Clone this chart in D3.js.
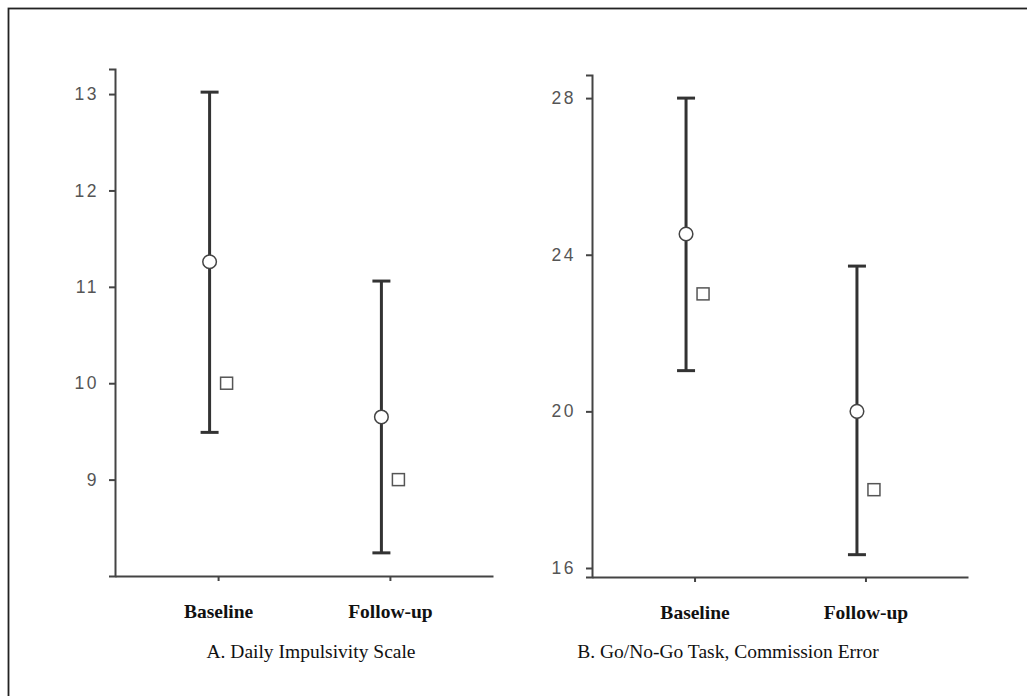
<!DOCTYPE html>
<html>
<head>
<meta charset="utf-8">
<script src="https://cdn.jsdelivr.net/npm/d3@7"></script>
<style>
  html, body { margin: 0; padding: 0; background: #fff; }
  svg { display: block; }
</style>
</head>
<body>
<svg id="chart" width="1027" height="696"></svg>
<script>
// ---- Data ----
const categories = ["Baseline", "Follow-up"];

// Panel A: Daily Impulsivity Scale
const aMean  = [11.26, 9.65];
const aLower = [9.49, 8.24];
const aUpper = [13.02, 11.06];
const aSquare = [10.0, 9.0];
const aTicks = [9, 10, 11, 12, 13];
const aTitle = "A. Daily Impulsivity Scale";

// Panel B: Go/No-Go Task, Commission Error
const bMean  = [24.53, 20.0];
const bLower = [21.04, 16.34];
const bUpper = [28.0, 23.71];
const bSquare = [23.0, 18.0];
const bTicks = [16, 20, 24, 28];
const bTitle = "B. Go/No-Go Task, Commission Error";

const svg = d3.select("#chart");

// frame (cropped on right/bottom)
svg.append("rect")
  .attr("x", 8.5).attr("y", 8.5)
  .attr("width", 1030).attr("height", 700)
  .attr("fill", "none").attr("stroke", "#222").attr("stroke-width", 1.8);

function panel(cfg) {
  const g = svg.append("g");
  const x = d3.scalePoint().domain(categories).range([cfg.x0, cfg.x1]).padding(0.6);
  const y = d3.scaleLinear().domain(cfg.yDomain).range([cfg.yBottom, cfg.yTop]);

  // y axis
  const yAx = g.append("g").attr("transform", `translate(${cfg.x0},0)`)
    .call(d3.axisLeft(y).tickValues(cfg.ticks).tickSize(6).tickPadding(10).tickFormat(d3.format("d")));
  yAx.select(".domain").attr("stroke", "#444").attr("stroke-width", 2);
  yAx.selectAll(".tick line").attr("stroke", "#444").attr("stroke-width", 2);
  yAx.selectAll(".tick text")
    .attr("fill", "#555")
    .style("font-family", "'Liberation Sans', Arial, sans-serif")
    .style("font-size", "17.5px")
    .style("letter-spacing", "2.5px");

  // x axis
  const xAx = g.append("g").attr("transform", `translate(0,${cfg.yBottom})`)
    .call(d3.axisBottom(x).tickSize(5).tickSizeOuter(0).tickPadding(23));
  xAx.select(".domain").attr("stroke", "#444").attr("stroke-width", 2);
  xAx.selectAll(".tick line").attr("stroke", "#444").attr("stroke-width", 2);
  xAx.selectAll(".tick text")
    .attr("fill", "#111")
    .style("font-family", "'Liberation Serif', 'Times New Roman', serif")
    .style("font-weight", "bold")
    .style("font-size", "19.5px");

  const off = 8.5;
  const cap = 9;
  const items = categories.map((c, i) => ({
    c, mean: cfg.mean[i], lo: cfg.lower[i], hi: cfg.upper[i], sq: cfg.square[i]
  }));

  // error bars
  const eb = g.selectAll(".eb").data(items).enter().append("g");
  eb.append("line")
    .attr("x1", d => x(d.c) - off).attr("x2", d => x(d.c) - off)
    .attr("y1", d => y(d.lo)).attr("y2", d => y(d.hi))
    .attr("stroke", "#333").attr("stroke-width", 3);
  eb.append("line")
    .attr("x1", d => x(d.c) - off - cap).attr("x2", d => x(d.c) - off + cap)
    .attr("y1", d => y(d.hi)).attr("y2", d => y(d.hi))
    .attr("stroke", "#333").attr("stroke-width", 3);
  eb.append("line")
    .attr("x1", d => x(d.c) - off - cap).attr("x2", d => x(d.c) - off + cap)
    .attr("y1", d => y(d.lo)).attr("y2", d => y(d.lo))
    .attr("stroke", "#333").attr("stroke-width", 3);
  eb.append("circle")
    .attr("cx", d => x(d.c) - off).attr("cy", d => y(d.mean)).attr("r", 6.8)
    .attr("fill", "#fff").attr("stroke", "#444").attr("stroke-width", 1.5);
  eb.append("rect")
    .attr("x", d => x(d.c) + off - 6).attr("y", d => y(d.sq) - 6)
    .attr("width", 12).attr("height", 12)
    .attr("fill", "#fff").attr("stroke", "#555").attr("stroke-width", 1.5);

  // caption
  g.append("text")
    .attr("x", cfg.captionX).attr("y", 658)
    .attr("text-anchor", "middle")
    .attr("fill", "#111")
    .style("font-family", "'Liberation Serif', 'Times New Roman', serif")
    .style("font-size", "19.5px")
    .text(cfg.title);
}

panel({
  x0: 115, x1: 493, yBottom: 576, yTop: 69,
  yDomain: [8.0, 13.26], ticks: aTicks,
  mean: aMean, lower: aLower, upper: aUpper, square: aSquare,
  title: aTitle, captionX: 311
});

panel({
  x0: 592, x1: 968, yBottom: 577, yTop: 75,
  yDomain: [15.77, 28.59], ticks: bTicks,
  mean: bMean, lower: bLower, upper: bUpper, square: bSquare,
  title: bTitle, captionX: 728
});
</script>
</body>
</html>
